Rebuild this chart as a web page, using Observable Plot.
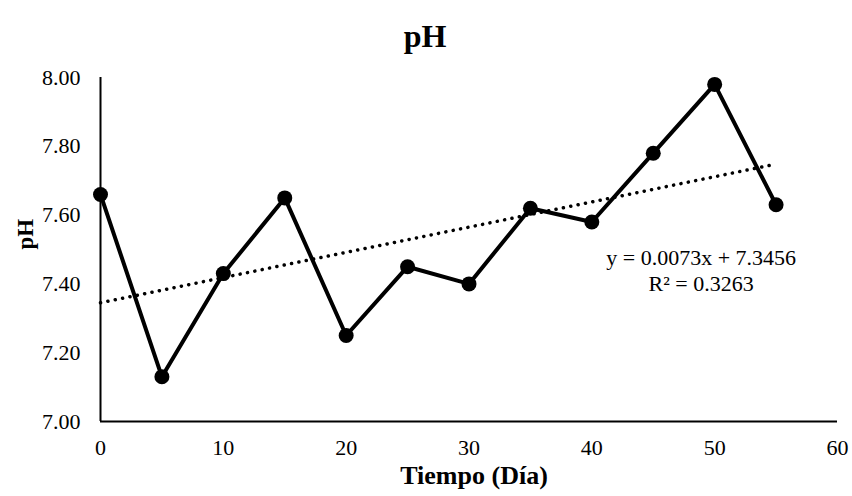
<!DOCTYPE html>
<html>
<head>
<meta charset="utf-8">
<script src="https://cdn.jsdelivr.net/npm/d3@7"></script>
<script src="https://cdn.jsdelivr.net/npm/@observablehq/plot@0.6"></script>
<style>
  html, body { margin: 0; padding: 0; background: #ffffff; }
</style>
</head>
<body>
<div id="chart"></div>
<script>
// ---- data ----
const days = [0, 5, 10, 15, 20, 25, 30, 35, 40, 45, 50, 55];
const phValues = [7.66, 7.13, 7.43, 7.65, 7.25, 7.45, 7.40, 7.62, 7.58, 7.78, 7.98, 7.63];
const xTicks = [0, 10, 20, 30, 40, 50, 60];
const yTicks = [7.0, 7.2, 7.4, 7.6, 7.8, 8.0];
const titleText = "pH";
const xLabel = "Tiempo (Día)";
const yLabel = "pH";
const trendLabels = ["y = 0.0073x + 7.3456", "R² = 0.3263"];

const data = days.map((d, i) => ({day: d, ph: phValues[i]}));

const chart = Plot.plot({
  width: 852,
  height: 496,
  marginLeft: 100,
  marginRight: 15,
  marginTop: 77,
  marginBottom: 75,
  style: {
    fontFamily: "'Liberation Serif', 'Times New Roman', serif",
    fontSize: "22px",
    color: "#000",
    background: "#fff"
  },
  x: {domain: [0, 60]},
  y: {domain: [7, 8]},
  marks: [
    Plot.axisX({ticks: xTicks, tickSize: 0, tickPadding: 18, label: null, tickFormat: d3.format("d")}),
    Plot.axisY({ticks: yTicks, tickSize: 0, tickPadding: 20, label: null, tickFormat: d3.format(".2f")}),
    Plot.ruleX([0], {stroke: "#000", strokeWidth: 2}),
    Plot.ruleY([7], {stroke: "#000", strokeWidth: 2}),
    Plot.linearRegressionY(data, {
      x: "day", y: "ph", ci: 0,
      stroke: "#000", strokeWidth: 3.5,
      strokeDasharray: "0.1,7.4", strokeLinecap: "round"
    }),
    Plot.line(data, {x: "day", y: "ph", stroke: "#000", strokeWidth: 4, strokeLinejoin: "round"}),
    Plot.dot(data, {x: "day", y: "ph", r: 7.5, fill: "#000", stroke: "none"}),
    Plot.text([trendLabels.join("\n")], {
      x: () => 48.9, y: () => 7.441, text: d => d,
      textAnchor: "middle", lineHeight: 1.2, fontSize: 22, fill: "#000"
    }),
    Plot.text([titleText], {
      frameAnchor: "top", dx: -44, dy: -53, text: d => d,
      fontSize: 32, fontWeight: "bold", fill: "#000"
    }),
    Plot.text([xLabel], {
      frameAnchor: "bottom", dx: 5, dy: 62, text: d => d,
      fontSize: 26, fontWeight: "bold", fill: "#000"
    }),
    Plot.text([yLabel], {
      frameAnchor: "left", dx: -75, rotate: -90, text: d => d,
      fontSize: 23, fontWeight: "bold", fill: "#000"
    })
  ]
});

document.getElementById("chart").appendChild(chart);
</script>
</body>
</html>
